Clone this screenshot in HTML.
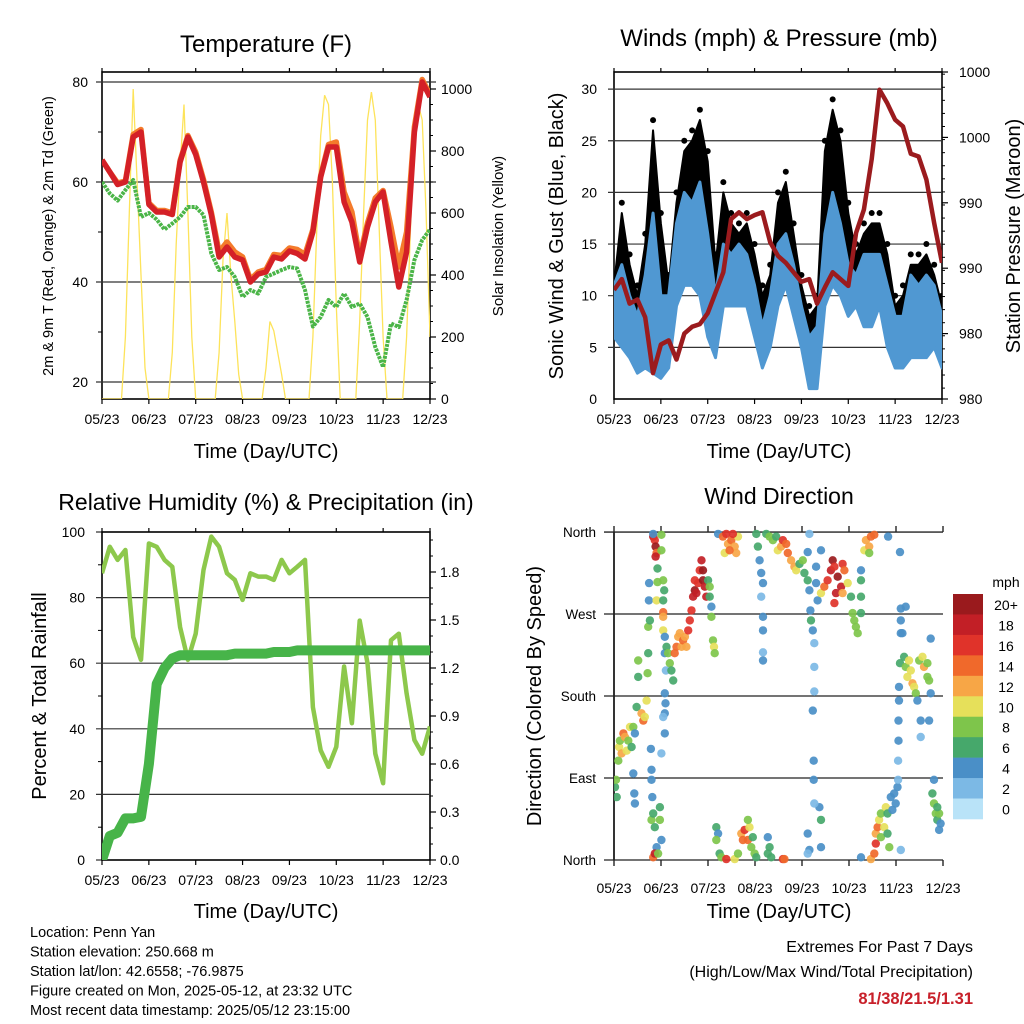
<!DOCTYPE html>
<html><head><meta charset="utf-8">
<style>
html,body{margin:0;padding:0;background:#fff;}
svg{display:block;font-family:"Liberation Sans",Arial,sans-serif;}
</style></head>
<body>
<svg id="chart" width="1024" height="1024" viewBox="0 0 1024 1024" xmlns="http://www.w3.org/2000/svg">
<defs>
<clipPath id="c1"><rect x="102" y="72" width="328" height="327"/></clipPath>
<clipPath id="c2"><rect x="614" y="72" width="328" height="327"/></clipPath>
<clipPath id="c3"><rect x="102" y="532" width="328" height="328"/></clipPath>
<clipPath id="c4"><rect x="614" y="528" width="333" height="336"/></clipPath>
</defs>
</svg>
<script>
// ---------- DATA (4-hour steps unless noted) ----------
const xTickLabels = ["05/23","06/23","07/23","08/23","09/23","10/23","11/23","12/23"];
const tempTicks = [80,60,40,20];
const solarTicks = [1000,800,600,400,200,0];
const temp2m = [64.4,62,59.5,60,69,70,55.5,54,54,53.5,64,69,65.5,60,53.5,45,47,45,44.4,40,41.6,42,45,44.6,46.2,45.7,44.6,50,61,67,67,56,52,44,51,56,58,48,39,46,70,80,77];
const temp9m = [64.4,62,59.8,60.2,69.5,70.5,55.8,54.3,54.3,53.8,64.3,69.3,66,60.5,54,46,48,46,45,40.5,42,42.5,45.5,45.3,46.8,46.5,45.5,50.5,61.3,67.5,68,58,54,45,51.8,56.8,58.3,51,43,50,71,80.5,77.5];
const dewpt2m = [60,57.7,56.3,58.4,60.4,53,53.8,52.5,50.5,51.7,53,55,55,53.4,45.7,42.4,43,41,37,38.4,37.7,41,41.7,42.4,43,42.7,38.4,31.1,33,36.4,35,37.7,35,35.7,33,27,23,31.7,31,36.4,44.4,48.4,50.5];
// solar: 2-hour steps
const solar = [0,0,0,0,0,0,200,600,1000,700,400,100,0,0,0,0,0,0,150,500,750,950,600,200,0,0,0,0,0,0,150,450,600,400,250,80,0,0,0,0,0,0,100,250,220,150,80,0,0,0,0,0,0,0,200,550,850,980,950,700,300,0,0,0,0,0,250,600,900,990,900,550,200,0,0,0,0,0,200,550,850,950,900,600,200];

const windTicks = [0,5,10,15,20,25,30];
const pressTickLabels = ["1000","1000","990","990","980","980"];
const windLow  = [6,5,4,2.5,3,2.5,2,3,9,11,11,10,6,4,9,9,9,9,6,3,5,9,11,8,5,1,1,9,11,10,8,9,7,7,9,5,3,3,4,4,4,5,3];
const windHigh = [11,13,10,8,12,18,10,10,17,20,19,21,16,10,15,14,15,14,11,7,10,15,16,13,9,6,7,16,20,17,13,12,14,14,14,11,8,8,12,11,12,11,8];
const gustTop  = [12,19,14,11,16,27,18,12,20,25,26,28,24,14,21,18,17,18,15,11,13,20,22,17,12,9,10,25,29,26,19,15,17,18,18,15,10,11,14,14,15,13,10];
const pressure = [986,986.8,985,985.3,984,979.9,982,982.3,980.9,982.8,983.3,983.5,984.3,985.8,987.3,991.2,991.7,991.2,991.5,991.7,989.5,988.5,988,987.3,986.6,986.8,985,986.2,987.3,986.8,986.3,990.2,991.9,995.6,1000.7,999.7,998.5,998,996,995.8,994.1,990.9,988];

const rhTicks = [100,80,60,40,20,0];
const precipTickLabels = ["1.8","1.5","1.2","0.9","0.6","0.3","0.0"];
const precipTickValues = [1.8,1.5,1.2,0.9,0.6,0.3,0.0];
const relHum = [87.4,95.5,91.5,94.5,68,61,96.5,95.5,91.5,89.4,71,61,69,88.4,98.6,95.5,87.4,85.4,79.3,87.4,86.4,86.4,85.4,91.5,87.4,89.4,91.5,46.6,33.4,28.4,34.5,59,41.7,73,60,32.4,23.4,67,69,50.8,36.6,32.4,40.7];
const precip = [0,0.15,0.17,0.26,0.26,0.27,0.6,1.1,1.2,1.26,1.28,1.28,1.28,1.28,1.28,1.28,1.28,1.29,1.29,1.29,1.29,1.29,1.3,1.3,1.3,1.31,1.31,1.31,1.31,1.31,1.31,1.31,1.31,1.31,1.31,1.31,1.31,1.31,1.31,1.31,1.31,1.31,1.31];

const dirLabels = ["North","West","South","East","North"];
const dirTickValues = [360,270,180,90,0];
const speedBinLabels = ["0","2","4","6","8","10","12","14","16","18","20+"];
const speedColors = ["#b9e3f8","#7cb9e5","#4a8fc7","#46a86b","#7ec54b","#e6e05a","#f7a646","#f0692b","#e0332a","#c21f26","#9a1a1d"];
const dirHours = [0.5,1,1.4,2.2,2.6,3,3.9,4.8,5.6,6.5,7.3,8.2,9,9.9,10.7,9.9,10.4,10.7,11.6,12.4,12.4,14.1,15,15.8,16.7,17.2,17.5,17.5,18.4,18,17.9,
 20.1,20.9,21.3,21.8,21.3,20.1,24.3,24.3,22.3,22.3,25.2,25.7,21.8,25.2,25.2,25.2,25.2,26,18.9,19.2,19.2,19.6,19.2,20.1,20.9,21.8,20.1,20.9,22.6,23.5,23.5,24.3,26,26.9,26.6,26,26,26,25.2,24.3,26.4,
 27.7,28.6,29.4,30.3,31.1,32,32.9,33.7,34.6,35.4,36.3,37.1,38,38.8,39.7,40.5,41.4,42.2,41.4,43.1,43.9,44.8,45.6,45.6,46.5,47.3,48.2,49,49,49.9,49.9,50.7,51.2,51.6,
 53.3,55.8,57.5,58.4,60.1,61.8,62.6,63.5,60.9,56.7,59.2,
 52.4,53.3,52.4,54.1,55,57.5,61.8,63.5,65.2,66,66.9,68.6,69.4,68.6,70.3,72,71.1,72.9,78.8,79.7,78.8,80.5,86.5,87.3,99.2,100.1,105.2,106,106,99.2,126.5,
 72.9,73.7,74.6,75.4,76.3,75.4,76.3,76.3,76.3,76.3,78,79.7,81.4,83.1,83.9,85.6,86.5,88.2,89,90.7,92.4,93.3,95,96.7,97.5,99.2,100.1,100.6,100.9,101.8,102.6,102.6,102.6,101.8,102.3,102.3,102.6,99.2,100.1,106,103.5,103.5,104.3,
 106,107.7,109.4,111.1,112,112.9,114.6,116.3,117.1,118,113.7,112.9,117.1,119.7,121.4,122.2,123.1,123.9,124.8,126.5,126.5,126.5,126.5,128.2,129,130.7,131.6,133.3,130.7,140.4,146.5,
 131.6,133.3,134.1,134.1,135,135.8,136.7,136.7,138.4,139.2,140.1,140.1,141,141.8,142.6,143.5,144.3,145.2,145.5,145.5,145.7,145.7,146,146,146.5,146.9,146.9,146.9,149.4,147.7,148.6,149.4,150.3,151.1,152,152.9,153.7,154.6,155.4,156.3,158,158.8,160.5,160.5,161.4,162.2,157.1,161.4,157.1,162.2,146.9,163.9,163.1,163.9,164.8,165.6,166.5,167.3,166.5,165.6];
const dirDegrees = [80,88,69,109,124,131,117,139,135,120,131,146,124,146,139,95,73,62,168,201,219,161,153,157,175,205,227,256,263,304,285,
 355,351,344,337,333,358,357,340,320,305,307,296,285,285,272,267,252,245,122,99,88,69,44,51,36,14,3,7,7,58,44,22,227,234,208,183,161,139,157,117,172,
 227,216,208,197,227,234,245,249,234,241,245,234,252,263,274,289,296,293,307,304,318,329,318,307,300,289,307,300,289,278,267,241,234,227,
 358,355,358,347,351,344,337,355,358,337,340,
 36,29,22,7,3,1,1,7,29,22,33,22,36,44,14,7,25,3,25,14,7,3,1,1,29,11,58,44,14,7,3,
 358,344,329,315,304,289,267,252,228,219,358,355,351,355,340,344,351,347,337,329,322,318,325,329,315,307,296,274,263,252,238,212,185,164,109,88,62,338,358,340,322,304,285,
 293,300,307,318,329,322,311,300,325,318,293,282,293,304,289,271,263,256,249,271,289,307,318,340,351,344,355,357,337,355,338,
 1,7,18,29,36,44,51,25,36,58,51,29,14,69,55,73,62,80,88,109,131,153,175,190,216,249,263,276,278,249,223,212,201,219,208,194,190,183,175,219,223,212,216,201,197,183,153,153,135,243,11,88,73,62,51,44,51,40,33,58];
const dirSpeeds = [6,8,6,8,10,8,12,14,12,10,8,10,6,8,4,4,4,4,6,6,8,12,14,10,10,8,6,8,6,4,4,
 18,16,20,14,18,4,8,8,6,8,8,6,10,6,14,12,10,4,4,4,4,4,8,6,6,4,14,18,8,6,8,4,4,6,2,4,4,4,2,2,4,
 8,8,6,6,14,14,12,12,12,14,12,12,16,16,16,18,20,18,16,16,16,18,20,20,18,18,6,8,6,4,8,8,10,8,
 4,14,16,12,14,12,12,10,16,10,14,
 6,4,8,6,8,16,10,8,12,14,16,14,10,8,8,8,6,6,4,6,6,6,16,14,4,4,4,6,4,2,4,
 6,6,4,4,4,2,4,4,2,4,6,8,8,6,10,12,16,14,14,12,12,10,6,8,6,6,4,4,6,4,2,2,2,4,4,4,2,4,2,4,4,4,4,
 10,14,16,18,20,16,20,18,16,14,18,16,12,10,6,8,8,8,8,6,6,6,4,10,12,12,14,14,8,4,4,
 12,14,16,12,14,10,8,8,10,10,6,6,8,4,4,4,4,4,2,2,4,4,4,4,6,4,4,4,4,4,6,8,10,10,10,12,10,8,4,8,10,12,8,8,8,4,4,4,2,4,2,4,6,8,8,6,8,4,4,6];

// ---------- SCALES ----------
const NS = "http://www.w3.org/2000/svg";
const svg = document.getElementById("chart");
const DAYW = 328/7;
const xL = d => 102 + d*DAYW;
const xR = d => 614 + d*DAYW;
const yTemp = v => 82 + (80 - v)*5;
const ySol = v => 399 - v*0.31;
const yWind = v => 399 - v*10.33;
const yPress = v => 399 - (v - 978)*13.625;
const yRH = v => 860 - v*3.28;
const yPrec = v => 860 - v*160;
const yDir = v => 860 - v*0.911;

function el(tag, attrs, parent){
  const e = document.createElementNS(NS, tag);
  for (const k in attrs) e.setAttribute(k, attrs[k]);
  (parent||svg).appendChild(e);
  return e;
}
function txt(x,y,s,size,anchor,parent,extra){
  const t = el("text",Object.assign({x:x,y:y,"font-size":size,"text-anchor":anchor||"middle",fill:"#000"},extra||{}),parent);
  t.textContent = s;
  return t;
}
function group(name, clip){
  const g = el("g", clip?{"clip-path":"url(#"+clip+")"}:{});
  
  
  return g;
}
function polyPts(arr, xf, yf, step){ return arr.map((v,i)=>xf(i*step).toFixed(1)+","+yf(v).toFixed(1)).join(" "); }

function panelFrame(x0,x1,y0,y1,name){
  const g = group(name);
  el("rect",{x:x0,y:y0,width:x1-x0,height:y1-y0,fill:"none",stroke:"#000","stroke-width":1.6},g);
  for (let i=0;i<8;i++){
    const x = x0 + i*(x1-x0)/7;
    el("line",{x1:x,y1:y0,x2:x,y2:y0-4,stroke:"#000","stroke-width":1.2},g);
    el("line",{x1:x,y1:y1,x2:x,y2:y1+5,stroke:"#000","stroke-width":1.2},g);
    const t = txt(x, y1+25, xTickLabels[i], 14, "middle", g);
    
    
  }
  return g;
}

// ================= PANEL 1: TEMPERATURE =================
(function(){
  const g = panelFrame(102,430,72,399,"temperature-panel");
  tempTicks.forEach(v=>{
    const y = yTemp(v);
    el("line",{x1:96,y1:y,x2:436,y2:y,stroke:"#333","stroke-width":1.2},g);
    txt(88,y+5,String(v),14,"end",g);
  });
  [70,50,30].forEach(v=>el("line",{x1:98,y1:yTemp(v),x2:102,y2:yTemp(v),stroke:"#000"},g));
  solarTicks.forEach(v=>{
    const y = ySol(v);
    el("line",{x1:430,y1:y,x2:436,y2:y,stroke:"#000","stroke-width":1.2},g);
    txt(441,y+5,String(v),14,"start",g);
  });
  for (let v=50; v<1050; v+=50) if (v%200) el("line",{x1:430,y1:ySol(v),x2:433,y2:ySol(v),stroke:"#000"},g);
  const d = group("temperature-series","c1");
  const sol = el("polyline",{points:polyPts(solar,xL,ySol,1/12),fill:"none",stroke:"#fde35a","stroke-width":1.3},d);
  
  
  const o = el("polyline",{points:polyPts(temp9m,xL,yTemp,1/6),fill:"none",stroke:"#f47b2b","stroke-width":5.5,"stroke-linejoin":"round"},d);
  
  
  const r = el("polyline",{points:polyPts(temp2m,xL,yTemp,1/6),fill:"none",stroke:"#d42027","stroke-width":5.5,"stroke-linejoin":"round"},d);
  
  
  const gr = el("polyline",{points:polyPts(dewpt2m,xL,yTemp,1/6),fill:"none",stroke:"#4bb548","stroke-width":4,"stroke-dasharray":"3 1","stroke-linejoin":"round"},d);
  
  
  const t = txt(266,52,"Temperature (F)",24,"middle");
  
  
  const yt = txt(0,0,"2m & 9m T (Red, Orange) & 2m Td (Green)",14.5,"middle",null,{transform:"translate(53,236) rotate(-90)"});
  
  
  const yr = txt(0,0,"Solar Insolation (Yellow)",15,"middle",null,{transform:"translate(503,236) rotate(-90)"});
  
  
  const xt = txt(266,458,"Time (Day/UTC)",20,"middle");
  
  
})();

// ================= PANEL 2: WINDS =================
(function(){
  const g = panelFrame(614,942,72,399,"winds-panel");
  windTicks.forEach(v=>{
    const y = yWind(v);
    if (v>0) el("line",{x1:608,y1:y,x2:942,y2:y,stroke:"#333","stroke-width":1.2},g);
    txt(597,y+5,String(v),14,"end",g);
  });
  pressTickLabels.forEach((s,i)=>{
    const y = 72 + i*327/5;
    el("line",{x1:942,y1:y,x2:948,y2:y,stroke:"#000","stroke-width":1.2},g);
    txt(959,y+5,s,14,"start",g);
  });
  for (let v=978.8; v<1002; v+=0.96) el("line",{x1:942,y1:yPress(v),x2:945,y2:yPress(v),stroke:"#000"},g);
  const d = group("wind-series","c2");
  const n = gustTop.length, st = 1/6;
  let gp = gustTop.map((v,i)=>xR(i*st)+","+yWind(v-1)).join(" ")+" "+windHigh.slice().reverse().map((v,k)=>xR((n-1-k)*st)+","+yWind(v-3)).join(" ");
  const gust = el("polygon",{points:gp,fill:"#000","stroke":"#000","stroke-width":2,"stroke-linejoin":"round"},d);
  
  
  gustTop.forEach((v,i)=>{
    const c = el("circle",{cx:xR(i*st),cy:yWind(v),r:3,fill:"#000"},d);
    
    
  });
  let bp = windHigh.map((v,i)=>xR(i*st)+","+yWind(v)).join(" ")+" "+windLow.slice().reverse().map((v,k)=>xR((n-1-k)*st)+","+yWind(v)).join(" ");
  const blue = el("polygon",{points:bp,fill:"#5098d2",stroke:"#5098d2","stroke-width":3,"stroke-linejoin":"round"},d);
  
  
  const p = el("polyline",{points:polyPts(pressure,xR,yPress,st),fill:"none",stroke:"#9b1b1e","stroke-width":4.5,"stroke-linejoin":"round"},d);
  
  
  const t = txt(779,46,"Winds (mph) & Pressure (mb)",24,"middle");
  
  
  const yt = txt(0,0,"Sonic Wind & Gust (Blue, Black)",20,"middle",null,{transform:"translate(563,236) rotate(-90)"});
  
  
  const yr = txt(0,0,"Station Pressure (Maroon)",20,"middle",null,{transform:"translate(1020,236) rotate(-90)"});
  
  
  const xt = txt(779,458,"Time (Day/UTC)",20,"middle");
  
  
})();

// ================= PANEL 3: RH & PRECIP =================
(function(){
  const g = panelFrame(102,430,532,860,"humidity-panel");
  rhTicks.forEach(v=>{
    const y = yRH(v);
    if (v>0 && v<100) el("line",{x1:96,y1:y,x2:430,y2:y,stroke:"#333","stroke-width":1.2},g);
    else el("line",{x1:96,y1:y,x2:102,y2:y,stroke:"#000"},g);
    txt(85,y+5,String(v),14,"end",g);
  });
  [90,70,50,30,10].forEach(v=>el("line",{x1:98,y1:yRH(v),x2:102,y2:yRH(v),stroke:"#000"},g));
  precipTickValues.forEach((v,i)=>{
    const y = yPrec(v);
    el("line",{x1:430,y1:y,x2:436,y2:y,stroke:"#000","stroke-width":1.2},g);
    txt(440,y+5,precipTickLabels[i],14,"start",g);
  });
  for (let v=0.1; v<2.05; v+=0.1) el("line",{x1:430,y1:yPrec(v),x2:433,y2:yPrec(v),stroke:"#000"},g);
  const d = group("humidity-series","c3");
  const rh = el("polyline",{points:polyPts(relHum,xL,yRH,1/6),fill:"none",stroke:"#8dc84c","stroke-width":4.5,"stroke-linejoin":"round"},d);
  
  
  const pr = el("polyline",{points:polyPts(precip,xL,yPrec,1/6),fill:"none",stroke:"#47b449","stroke-width":10,"stroke-linejoin":"round","stroke-linecap":"round"},d);
  
  
  const t = txt(266,510,"Relative Humidity (%) & Precipitation (in)",23,"middle");
  
  
  const yt = txt(0,0,"Percent & Total Rainfall",20,"middle",null,{transform:"translate(46,696) rotate(-90)"});
  
  
  const xt = txt(266,918,"Time (Day/UTC)",20,"middle");
  
  
})();

// ================= PANEL 4: WIND DIRECTION =================
(function(){
  const g = group("wind-direction-panel");
  for (let i=0;i<8;i++){
    const x = 614 + i*329/7;
    el("line",{x1:x,y1:532,x2:x,y2:526,stroke:"#000","stroke-width":1.2},g);
    el("line",{x1:x,y1:860,x2:x,y2:866,stroke:"#000","stroke-width":1.2},g);
    const tl = txt(x,893,xTickLabels[i],14,"middle",g);
    
    
  }
  el("line",{x1:614,y1:532,x2:614,y2:860,stroke:"#000","stroke-width":1.6},g);
  dirTickValues.forEach((v,i)=>{
    const y = yDir(v);
    el("line",{x1:604,y1:y,x2:943,y2:y,stroke:"#222","stroke-width":1.3},g);
    txt(596,y+5,dirLabels[i],13.5,"end",g);
  });
  const d = group("wind-direction-points","c4");
  dirHours.forEach((h,i)=>{
    const s = dirSpeeds[i];
    const bin = Math.min(10, Math.round(s/2));
    const c = el("circle",{cx:xR(h/24).toFixed(1),cy:yDir(dirDegrees[i]).toFixed(1),r:4.2,fill:speedColors[bin],"fill-opacity":0.92},d);
    
    
  });
  const lg = group("speed-legend");
  const mph = txt(1006,587,"mph",14,"middle",lg);
  
  
  speedBinLabels.forEach((lab,k)=>{
    const idx = 10-k;
    const y = 594 + k*(225/11);
    const r = el("rect",{x:953,y:y,width:30,height:225/11+0.3,fill:speedColors[idx]},lg);
    
    
    const t = txt(1006,y+16,speedBinLabels[idx],14,"middle",lg);
    
    
  });
  const t = txt(779,504,"Wind Direction",23,"middle");
  
  
  const yt = txt(0,0,"Direction (Colored By Speed)",20,"middle",null,{transform:"translate(541,696) rotate(-90)"});
  
  
  const xt = txt(779,918,"Time (Day/UTC)",20,"middle");
  
  
})();

// ================= FOOTER TEXT =================
(function(){
  const info = group("station-info");
  const lines = ["Location: Penn Yan","Station elevation: 250.668 m","Station lat/lon: 42.6558; -76.9875","Figure created on Mon, 2025-05-12, at 23:32 UTC","Most recent data timestamp: 2025/05/12 23:15:00"];
  lines.forEach((s,i)=>{
    const t = txt(30,937+i*19.5,s,14.5,"start",info);
    
    
  });
  const ex = group("extremes-summary");
  const a = txt(973,952,"Extremes For Past 7 Days",16,"end",ex);
  
  
  const b = txt(973,977,"(High/Low/Max Wind/Total Precipitation)",16,"end",ex);
  
  
  const c = txt(973,1004,"81/38/21.5/1.31",16.5,"end",ex,{fill:"#c8202a","font-weight":"bold"});
  
  
})();
</script>
</body></html>
